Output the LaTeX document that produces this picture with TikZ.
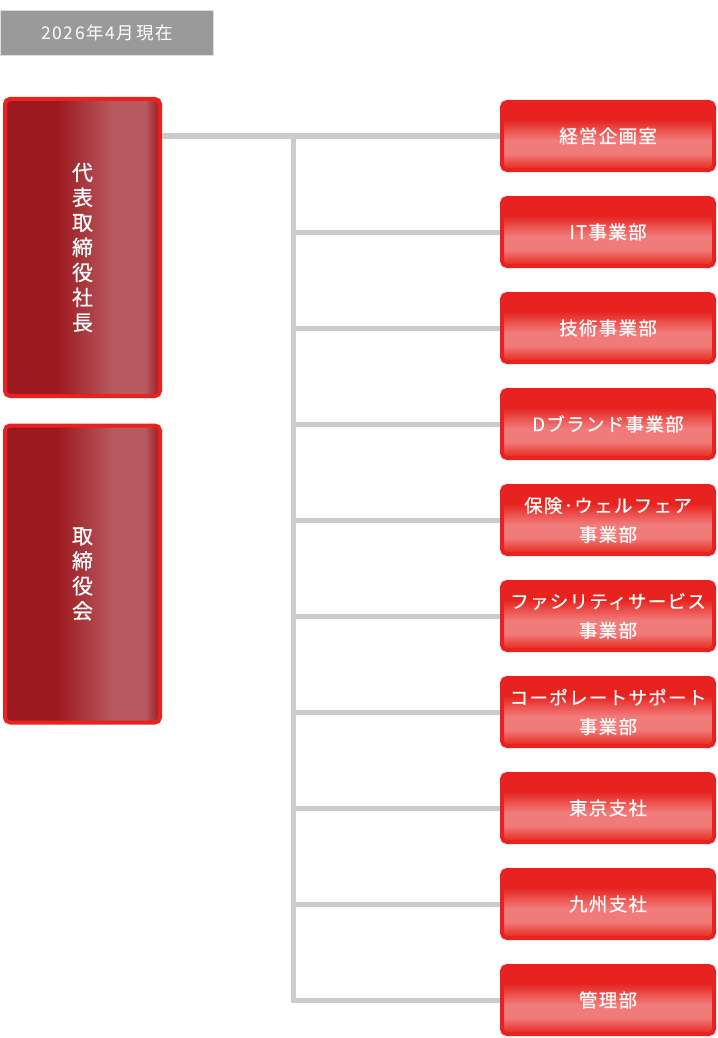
\documentclass[tikz,border=0pt]{standalone}
\usepackage{fontspec}
\usepackage{tikz}
\usetikzlibrary{positioning}
\newfontfamily\jp[LetterSpace=7, FakeBold=0.6]{Noto Sans CJK JP}
\newfontfamily\jpdate[LetterSpace=9]{Noto Sans CJK JP}
\definecolor{rimred}{HTML}{E8221E}
\definecolor{unitred}{HTML}{E8231F}
\definecolor{unitlight}{HTML}{F07B79}
\definecolor{leaddark}{HTML}{9C1A1F}
\definecolor{leadlight}{HTML}{B85A60}
\definecolor{linegray}{HTML}{CCCCCC}
\definecolor{dategray}{HTML}{9A9A9A}
\pgfdeclarehorizontalshading{leaderglow}{100bp}{color(0bp)=(leaddark); color(25bp)=(leaddark); color(42bp)=(leaddark); color(60bp)=(leadlight); color(70bp)=(leadlight); color(75bp)=(leaddark); color(100bp)=(leaddark)}
\pgfdeclareverticalshading{unitglow}{100bp}{color(0bp)=(unitred); color(25bp)=(unitred); color(37bp)=(unitlight); color(47bp)=(unitlight); color(62bp)=(unitred); color(75bp)=(unitred); color(100bp)=(unitred)}

\begin{document}
\begin{tikzpicture}[x=1pt, y=-1pt,
                          node distance=24pt,
                          datebox/.style={rectangle, fill=dategray, draw=gray!25, line width=1pt, minimum width=213pt, minimum height=45pt, text=white, font=\jpdate\fontsize{17.5}{20}\selectfont},
                          leaderbox/.style={rectangle, rounded corners=5pt, draw=rimred, line width=4pt, shading=leaderglow, minimum width=155pt, minimum height=297pt, inner sep=0pt, text=white, align=center, font=\jp\fontsize{21}{25}\selectfont},
                          unitbox/.style={rectangle, rounded corners=5pt, draw=rimred, line width=4pt, shading=unitglow, minimum width=212pt, minimum height=68pt, inner sep=0pt, text=white, align=center, font=\jp\fontsize{18.5}{29}\selectfont},
                          branch/.style={draw=linegray, line width=5pt},
                      ]
                      \useasboundingbox (0,0) rectangle (717,1038);
                      % Nodes
                      \node[datebox]          (date)     at (107,33)          {2026年4月現在};

                      \node[leaderbox]        (ceo)      at (82.5,247.5)      {代\\表\\取\\締\\役\\社\\長};
                      \node[leaderbox]        (board)    at (82.5,574)        {取\\締\\役\\会};

                      \node[unitbox]          (u1)       at (608,136)         {経営企画室};
                      \node[unitbox]          (u2)       [below=of u1]        {IT事業部};
                      \node[unitbox]          (u3)       [below=of u2]        {技術事業部};
                      \node[unitbox]          (u4)       [below=of u3]        {Dブランド事業部};
                      \node[unitbox]          (u5)       [below=of u4]        {保険･ウェルフェア\\事業部};
                      \node[unitbox]          (u6)       [below=of u5]        {ファシリティサービス\\事業部};
                      \node[unitbox]          (u7)       [below=of u6]        {コーポレートサポート\\事業部};
                      \node[unitbox]          (u8)       [below=of u7]        {東京支社};
                      \node[unitbox]          (u9)       [below=of u8]        {九州支社};
                      \node[unitbox]          (u10)      [below=of u9]        {管理部};

                      \coordinate             (trunk)    at (293,136);

                      %Lines
                      \draw[branch] (ceo.east |- u1) -- (u1.west);
                      \draw[branch] (trunk) |- (u10.west);
                      \foreach \i in {2,...,9}
                          \draw[branch] (trunk |- u\i) -- (u\i.west);
                  \end{tikzpicture}
\end{document}
